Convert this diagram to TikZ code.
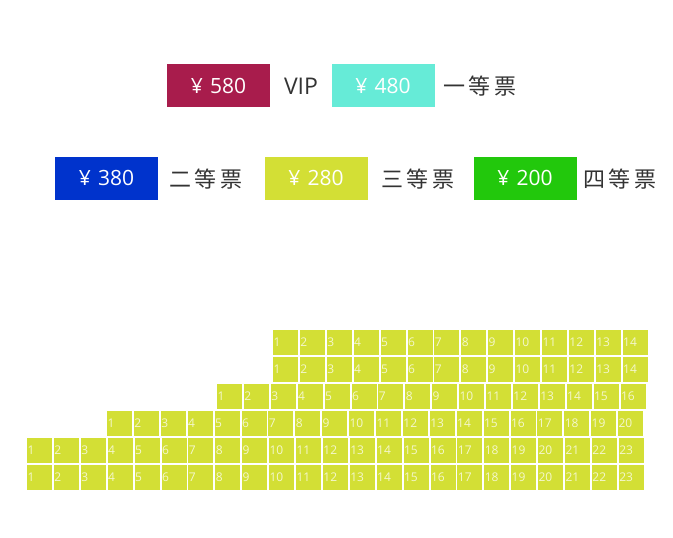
\documentclass[tikz,border=0pt]{standalone}
\usepackage{fontspec}
\setmainfont{Open Sans}
\newfontfamily\cjk{Noto Sans CJK SC}
\definecolor{vipred}{HTML}{A81C4C}
\definecolor{firstaqua}{HTML}{66EBD7}
\definecolor{secondblue}{HTML}{0033CC}
\definecolor{seatgreen}{HTML}{D3DF35}
\definecolor{fourthgreen}{HTML}{22C80C}
\definecolor{labelgray}{HTML}{333333}
\tikzset{
    pricebox/.style={fill=#1,minimum width=103pt,minimum height=43pt,inner sep=0pt,
        text=white,font=\fontsize{21}{25}\selectfont},
    ticket/.style={text=labelgray,inner sep=0pt,font=\fontsize{22}{26}\selectfont},
    seat/.style={fill=seatgreen,minimum width=25pt,minimum height=24.5pt,inner sep=0pt},
    seatno/.style={anchor=west,inner sep=0.5pt,text=white!75!seatgreen,font=\fontsize{12}{14}\selectfont}
}
\newcommand\yen{¥\hspace{0.35em}}
\begin{document}
\begin{tikzpicture}[x=1pt,y=-1pt]
    \useasboundingbox (0,0) rectangle (673,538);
    %% price legend
    \node[pricebox=vipred] (p580) at (218.5,85.5) {\yen 580};
    \node[ticket,font=\fontsize{23}{27}\selectfont] (tvip) at (301,86) {VIP};
    \node[pricebox=firstaqua] (p480) at (383,85.5) {\yen 480};
    \node[ticket] (tfirst) at (480,86) {\cjk 一\,等\,票};
    \node[pricebox=secondblue] (p380) at (106.5,178) {\yen 380};
    \node[ticket] (tsecond) at (206,179) {\cjk 二\,等\,票};
    \node[pricebox=seatgreen] (p280) at (316,178) {\yen 280};
    \node[ticket] (tthird) at (418,179) {\cjk 三\,等\,票};
    \node[pricebox=fourthgreen] (p200) at (525,178) {\yen 200};
    \node[ticket] (tfourth) at (620,179) {\cjk 四\,等\,票};
    %% seats: row / left edge / count
    \foreach \r/\x/\n in {1/273/14,2/273/14,3/217/16,4/107/20,5/27/23,6/27/23}
        \foreach \c in {1,...,\n} {
            \node[seat] (s\r-\c) at ({\x+12.5+26.9*(\c-1)},{315.25+27*\r}) {};
            \node[seatno] (n\r-\c) at (s\r-\c.west) {\c};
        }
\end{tikzpicture}
\end{document}
